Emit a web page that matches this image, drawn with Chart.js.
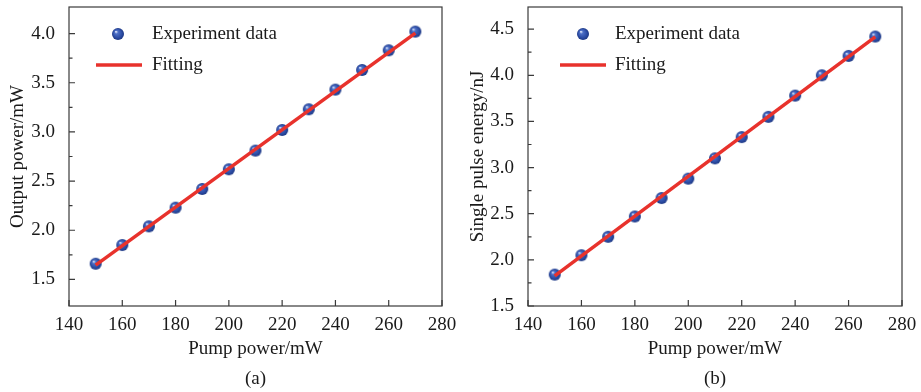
<!DOCTYPE html>
<html>
<head>
<meta charset="utf-8">
<script src="https://cdn.jsdelivr.net/npm/chart.js@4"></script>
<style>
  html, body { margin: 0; padding: 0; background: #fff; }
  #wrap { position: relative; width: 921px; height: 392px; }
  .panel { position: absolute; top: 0; height: 392px; }
</style>
</head>
<body>
<div id="wrap">
  <div class="panel" style="left:0;width:460px"><canvas id="chartA"></canvas></div>
  <div class="panel" style="left:460px;width:461px"><canvas id="chartB"></canvas></div>
</div>
<script>
// data
const pumpPower   = [150, 160, 170, 180, 190, 200, 210, 220, 230, 240, 250, 260, 270];
const outputPower = [1.66, 1.85, 2.04, 2.23, 2.42, 2.62, 2.81, 3.02, 3.23, 3.43, 3.63, 3.83, 4.02];
const pulseEnergy = [1.84, 2.05, 2.25, 2.47, 2.67, 2.88, 3.10, 3.33, 3.55, 3.78, 4.00, 4.21, 4.42];
const fitX  = [150, 270];
const fitA  = [1.645, 4.005];
const fitB  = [1.826, 4.417];
const xTicks  = [140, 160, 180, 200, 220, 240, 260, 280];
const yTicksA = [1.5, 2.0, 2.5, 3.0, 3.5, 4.0];
const yTicksB = [1.5, 2.0, 2.5, 3.0, 3.5, 4.0, 4.5];

const FONT = 'Liberation Serif, Times New Roman, serif';
const TXT = '#1a1a1a';
const AXIS = '#3a3a3a';
const RED = '#e8322c';

// shaded sphere used for the data points
function makeSphere(r) {
  const c = document.createElement('canvas');
  c.width = c.height = r * 2 + 2;
  const g = c.getContext('2d');
  const cx = r + 1, cy = r + 1;
  const grad = g.createRadialGradient(cx - r * 0.35, cy - r * 0.4, r * 0.05, cx, cy, r);
  grad.addColorStop(0, '#dfe7fb');
  grad.addColorStop(0.25, '#4d6fc6');
  grad.addColorStop(0.75, '#2a4aa2');
  grad.addColorStop(1, '#1d3782');
  g.fillStyle = grad;
  g.beginPath();
  g.arc(cx, cy, r, 0, Math.PI * 2);
  g.fill();
  return c;
}
const sphere = makeSphere(6);

// frame, inward ticks, legend and caption
const decorations = {
  id: 'decorations',
  beforeDatasetsDraw(chart) {
    const { ctx, chartArea: ca, scales: { x, y } } = chart;
    ctx.save();
    ctx.strokeStyle = AXIS;
    ctx.lineWidth = 1.2;
    ctx.strokeRect(ca.left, ca.top, ca.right - ca.left, ca.bottom - ca.top);
    ctx.beginPath();
    x.ticks.forEach(t => {
      const px = x.getPixelForValue(t.value);
      ctx.moveTo(px, ca.bottom); ctx.lineTo(px, ca.bottom - 6);
    });
    const yt = y.ticks.map(t => t.value);
    yt.forEach((v, i) => {
      const py = y.getPixelForValue(v);
      ctx.moveTo(ca.left, py); ctx.lineTo(ca.left + 6, py);
      if (i < yt.length - 1) {
        const pm = y.getPixelForValue((v + yt[i + 1]) / 2);
        ctx.moveTo(ca.left, pm); ctx.lineTo(ca.left + 3.5, pm);
      }
    });
    ctx.stroke();
    ctx.restore();
  },
  afterDraw(chart, args, opts) {
    const { ctx, chartArea: ca } = chart;
    ctx.save();
    // legend
    ctx.drawImage(sphere, ca.left + opts.markX - sphere.width / 2, ca.top + 27 - sphere.height / 2);
    ctx.strokeStyle = RED;
    ctx.lineWidth = 3.5;
    ctx.beginPath();
    ctx.moveTo(ca.left + opts.lineX0, ca.top + 58);
    ctx.lineTo(ca.left + opts.lineX1, ca.top + 58);
    ctx.stroke();
    ctx.fillStyle = TXT;
    ctx.font = '19px ' + FONT;
    ctx.textBaseline = 'middle';
    ctx.textAlign = 'left';
    ctx.fillText('Experiment data', ca.left + opts.textX, ca.top + 27);
    ctx.fillText('Fitting', ca.left + opts.textX, ca.top + 58);
    // caption
    ctx.textAlign = 'center';
    ctx.fillText(opts.caption, (ca.left + ca.right) / 2, 379);
    ctx.restore();
  }
};

function makeChart(id, yValues, fitY, yMin, yMax, yTicks, yTitle, caption, legend, padRight, yWidth) {
  const tickFont = { family: FONT, size: 19 };
  return new Chart(document.getElementById(id), {
    type: 'scatter',
    data: {
      datasets: [
        {
          label: 'Fitting',
          data: fitX.map((v, i) => ({ x: v, y: fitY[i] })),
          showLine: true,
          borderColor: RED,
          borderWidth: 3.5,
          pointRadius: 0,
          order: 0
        },
        {
          label: 'Experiment data',
          data: pumpPower.map((v, i) => ({ x: v, y: yValues[i] })),
          pointStyle: sphere,
          pointRadius: 6,
          order: 1
        }
      ]
    },
    options: {
      responsive: true,
      maintainAspectRatio: false,
      animation: false,
      layout: { padding: { top: 7, right: padRight, left: 0, bottom: 0 } },
      plugins: {
        legend: { display: false },
        tooltip: { enabled: false },
        decorations: Object.assign({ caption }, legend)
      },
      scales: {
        x: {
          type: 'linear',
          min: 140, max: 280,
          grid: { display: false },
          border: { display: false },
          afterBuildTicks: s => { s.ticks = xTicks.map(v => ({ value: v })); },
          afterFit: s => { s.height = 86; s.paddingLeft = 0; s.paddingRight = 0; s.paddingTop = 0; s.paddingBottom = 0; },
          ticks: { font: tickFont, color: TXT, padding: 0, maxRotation: 0, autoSkip: false },
          title: { display: true, text: 'Pump power/mW', font: tickFont, color: TXT, padding: { top: 0, bottom: 32 } }
        },
        y: {
          type: 'linear',
          min: yMin, max: yMax,
          grid: { display: false },
          border: { display: false },
          afterBuildTicks: s => { s.ticks = yTicks.map(v => ({ value: v })); },
          afterFit: s => { s.width = yWidth; s.paddingTop = 0; s.paddingBottom = 0; s.paddingLeft = 0; s.paddingRight = 0; },
          ticks: { font: tickFont, color: TXT, padding: 6, callback: v => v.toFixed(1) },
          title: { display: true, text: yTitle, font: tickFont, color: TXT, padding: { top: 7, bottom: 0 } }
        }
      }
    },
    plugins: [decorations]
  });
}

makeChart('chartA', outputPower, fitA, 1.23, 4.27, yTicksA, 'Output power/mW', '(a)',
  { markX: 49, lineX0: 27, lineX1: 73, textX: 83 }, 18, 69);
makeChart('chartB', pulseEnergy, fitB, 1.5, 4.74, yTicksB, 'Single pulse energy/nJ', '(b)',
  { markX: 55, lineX0: 32, lineX1: 78, textX: 87 }, 19, 68);
</script>
</body>
</html>
